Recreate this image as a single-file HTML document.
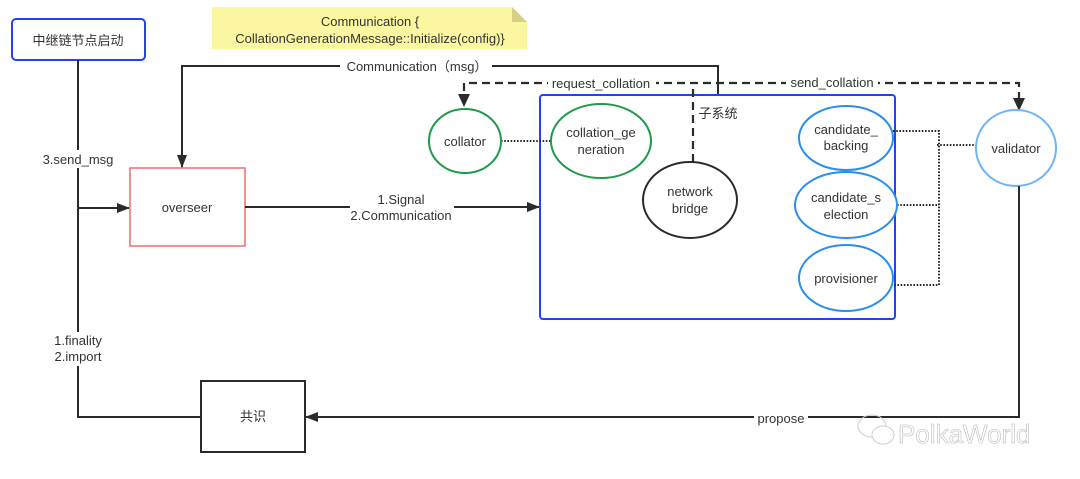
<!DOCTYPE html>
<html><head><meta charset="utf-8"><style>
html,body{margin:0;padding:0;background:#fff;width:1080px;height:479px;overflow:hidden}
svg text{font-family:"Liberation Sans","Noto Sans CJK SC",sans-serif;font-size:13px;fill:#333}
</style></head><body>
<svg width="1080" height="479" viewBox="0 0 1080 479" xmlns="http://www.w3.org/2000/svg">
<defs>
<marker id="a" markerWidth="13" markerHeight="12" refX="12" refY="6" orient="auto" markerUnits="userSpaceOnUse"><path d="M0,1 L13,6 L0,11 Z" fill="#2b2b2b"/></marker>
</defs>
<path d="M212,7 H512 L527,22 V49 H212 Z" fill="#fbf7a0"/>
<path d="M512,7 L527,22 H512 Z" fill="#d8d080"/>
<text x="370" y="26" text-anchor="middle">Communication {</text>
<text x="370" y="43" text-anchor="middle">CollationGenerationMessage::Initialize(config)}</text>
<rect x="12" y="19" width="133" height="41" rx="4" fill="#fff" stroke="#2442ee" stroke-width="2"/>
<text x="78" y="45" text-anchor="middle">中继链节点启动</text>
<g stroke="#2b2b2b">
<path d="M78,60 V417 H200" fill="none" stroke-width="2"/>
<path d="M78,208 H129" fill="none" stroke-width="2" marker-end="url(#a)"/>
</g>
<rect x="30" y="150" width="96" height="18" fill="#fff"/>
<text x="78" y="164" text-anchor="middle">3.send_msg</text>
<rect x="40" y="332" width="76" height="34" fill="#fff"/>
<text x="78" y="345" text-anchor="middle">1.finality</text>
<text x="78" y="361" text-anchor="middle">2.import</text>
<rect x="130" y="168" width="115" height="78" fill="#fff" stroke="#f26b6b" stroke-width="1.5"/>
<text x="187" y="212" text-anchor="middle">overseer</text>
<path d="M718,95 V66 H182 V167" fill="none" stroke="#2b2b2b" stroke-width="2" marker-end="url(#a)"/>
<rect x="340" y="58" width="152" height="16" fill="#fff"/>
<text x="417" y="71" text-anchor="middle">Communication（msg）</text>
<path d="M245,207 H539" fill="none" stroke="#2b2b2b" stroke-width="2" marker-end="url(#a)"/>
<rect x="350" y="190" width="104" height="34" fill="#fff"/>
<text x="401" y="204" text-anchor="middle">1.Signal</text>
<text x="401" y="220" text-anchor="middle">2.Communication</text>
<rect x="540" y="95" width="355" height="224" rx="3" fill="none" stroke="#2442ee" stroke-width="2"/>
<text x="718" y="118" text-anchor="middle">子系统</text>
<path d="M693,162 V83" fill="none" stroke="#2b2b2b" stroke-width="2.2" stroke-dasharray="8,5"/>
<path d="M464,104 V83 H1019 V108" fill="none" stroke="#2b2b2b" stroke-width="2.2" stroke-dasharray="8,5"/>
<path d="M458,94 L464,107 L470,94 Z" fill="#2b2b2b"/>
<path d="M1013,98 L1019,111 L1025,98 Z" fill="#2b2b2b"/>
<rect x="548" y="75" width="108" height="16" fill="#fff"/>
<text x="601" y="88" text-anchor="middle">request_collation</text>
<rect x="786" y="75" width="92" height="16" fill="#fff"/>
<text x="832" y="87" text-anchor="middle">send_collation</text>
<g fill="none" stroke="#2b2b2b" stroke-width="2" stroke-dasharray="1.6,1.6">
<path d="M501,141 H551"/>
<path d="M893,131 H939 V285 H891"/>
<path d="M897,205 H939"/>
<path d="M937,145 H976"/>
</g>
<ellipse cx="465" cy="141" rx="36" ry="32" fill="#fff" stroke="#1e9a4a" stroke-width="2"/>
<text x="465" y="146" text-anchor="middle">collator</text>
<ellipse cx="601" cy="141" rx="50" ry="37" fill="#fff" stroke="#1e9a4a" stroke-width="2"/>
<text x="601" y="137" text-anchor="middle">collation_ge</text>
<text x="601" y="154" text-anchor="middle">neration</text>
<ellipse cx="690" cy="200" rx="47" ry="38" fill="#fff" stroke="#2b2b2b" stroke-width="2"/>
<text x="690" y="196" text-anchor="middle">network</text>
<text x="690" y="213" text-anchor="middle">bridge</text>
<ellipse cx="846" cy="138" rx="47" ry="32" fill="#fff" stroke="#2a8fea" stroke-width="2"/>
<text x="846" y="134" text-anchor="middle">candidate_</text>
<text x="846" y="150" text-anchor="middle">backing</text>
<ellipse cx="846" cy="205" rx="51" ry="33" fill="#fff" stroke="#2a8fea" stroke-width="2"/>
<text x="846" y="202" text-anchor="middle">candidate_s</text>
<text x="846" y="219" text-anchor="middle">election</text>
<ellipse cx="846" cy="278" rx="47" ry="33" fill="#fff" stroke="#2a8fea" stroke-width="2"/>
<text x="846" y="283" text-anchor="middle">provisioner</text>
<ellipse cx="1016" cy="148" rx="40" ry="38" fill="#fff" stroke="#6bb5f5" stroke-width="2"/>
<text x="1016" y="153" text-anchor="middle">validator</text>
<path d="M1019,186 V417 H306" fill="none" stroke="#2b2b2b" stroke-width="2" marker-end="url(#a)"/>
<rect x="754" y="410" width="54" height="16" fill="#fff"/>
<text x="781" y="423" text-anchor="middle">propose</text>
<rect x="201" y="381" width="104" height="71" fill="#fff" stroke="#2b2b2b" stroke-width="2"/>
<text x="253" y="421" text-anchor="middle">共识</text>
<g fill="none" stroke="#ccc" stroke-width="1">
<ellipse cx="872" cy="426" rx="14" ry="11"/>
<ellipse cx="883" cy="435" rx="11" ry="9" fill="#fff"/>
</g>
<text x="898" y="443" style="font-size:26px;fill:#fff;stroke:#bbb;stroke-width:0.6">PolkaWorld</text>
</svg>
</body></html>
